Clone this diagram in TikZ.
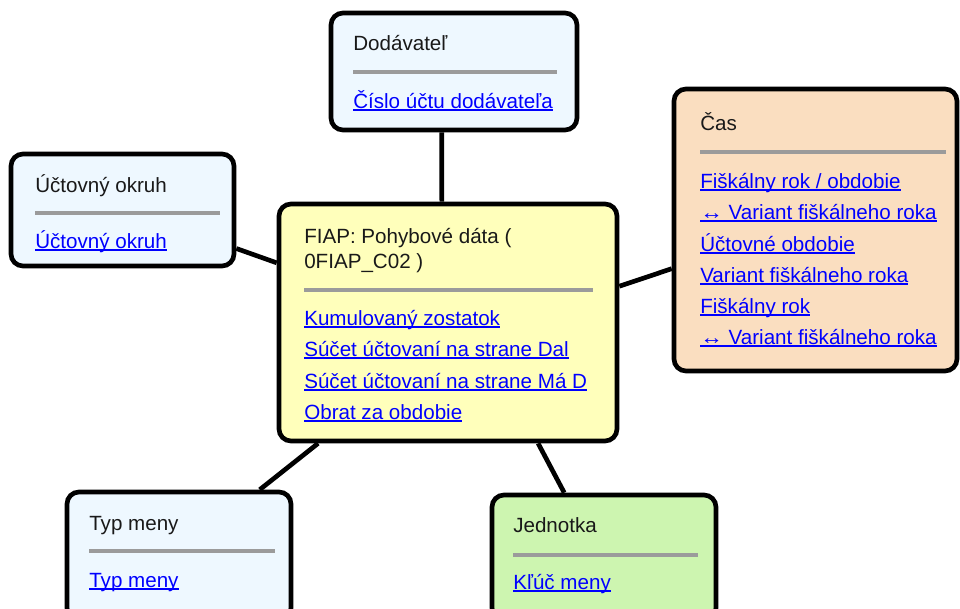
\documentclass[tikz,border=0pt]{standalone}
\usepackage{fontspec}
\usepackage{graphicx}
\setmainfont{Liberation Sans}
\usetikzlibrary{calc,backgrounds}
\definecolor{boxblue}{RGB}{238,248,255}
\definecolor{boxyellow}{RGB}{255,255,187}
\definecolor{boxpeach}{RGB}{250,222,192}
\definecolor{boxgreen}{RGB}{205,245,176}
\definecolor{sepgray}{RGB}{155,155,155}
\definecolor{linkblue}{RGB}{0,0,255}
\newcommand\lnk[1]{\setbox0\hbox{\color{linkblue}#1}\rlap{\color{linkblue}\rule[-2.3pt]{\wd0}{1.3pt}}\box0}
\newcommand\lrarr{\scalebox{1.1}[1]{↔}}
\tikzset{
  box/.style={draw=black, line width=3.5pt, rounded corners=9pt, inner sep=0pt},
  conn/.style={draw=black, line width=3.5pt},
  sepline/.style={draw=sepgray, line width=2.3pt},
  ttl/.style={anchor=base west, inner sep=0pt, font=\fontsize{15.45}{18}\selectfont, text=black!90},
  lk/.style={anchor=base west, inner sep=0pt, font=\fontsize{15.45}{18}\selectfont},
}
\begin{document}
\begin{tikzpicture}[x=0.75pt,y=-0.75pt]
\useasboundingbox (0,0) rectangle (960,608);
\clip (0,0) rectangle (960,608);
% boxes
\node[box, fill=boxblue, minimum width=184.5pt, minimum height=87.75pt] (dod) at (454,71.5) {};
\node[box, fill=boxblue, minimum width=167.25pt, minimum height=84pt] (uct) at (122.5,210) {};
\node[box, fill=boxyellow, minimum width=253.5pt, minimum height=177.75pt] (fiap) at (448,322.5) {};
\node[box, fill=boxpeach, minimum width=212.25pt, minimum height=211.5pt] (cas) at (815.5,230) {};
\node[box, fill=boxblue, minimum width=168pt, minimum height=96pt] (typ) at (179,556) {};
\node[box, fill=boxgreen, minimum width=168pt, minimum height=93.75pt] (jed) at (604,557.5) {};
% connectors
\begin{pgfonlayer}{background}
\draw[conn] ($(dod.south west)!0.451!(dod.south east)$) -- ($(fiap.north west)!0.482!(fiap.north east)$);
\draw[conn] ($(uct.north east)!0.83!(uct.south east)$) -- ($(fiap.north west)!0.253!(fiap.south west)$);
\draw[conn] ($(fiap.north east)!0.35!(fiap.south east)$) -- ($(cas.north west)!0.635!(cas.south west)$);
\draw[conn] ($(typ.north west)!0.853!(typ.north east)$) -- ($(fiap.south west)!0.121!(fiap.south east)$);
\draw[conn] ($(fiap.south west)!0.763!(fiap.south east)$) -- ($(jed.north west)!0.326!(jed.north east)$);
\end{pgfonlayer}
% Dodavatel
\node[ttl] (dodT) at (353,50) {Dodávateľ};
\draw[sepline] (353,72) -- (557,72);
\node[lk] (dodL1) at (353,108) {\lnk{Číslo účtu dodávateľa}};
% Uctovny okruh
\node[ttl] (uctT) at (35,192) {Účtovný okruh};
\draw[sepline] (35,213) -- (220,213);
\node[lk] (uctL1) at (35,248) {\lnk{Účtovný okruh}};
% FIAP
\node[ttl] (fiapT1) at (304,243) {FIAP: Pohybové dáta (};
\node[ttl] (fiapT2) at (304,268) {0FIAP\_C02 )};
\draw[sepline] (304,290) -- (593,290);
\node[lk] (fiapL1) at (304,325) {\lnk{Kumulovaný zostatok}};
\node[lk] (fiapL2) at (304,356) {\lnk{Súčet účtovaní na strane Dal}};
\node[lk] (fiapL3) at (304,388) {\lnk{Súčet účtovaní na strane Má D}};
\node[lk] (fiapL4) at (304,419) {\lnk{Obrat za obdobie}};
% Cas
\node[ttl] (casT) at (700,130) {Čas};
\draw[sepline] (700,152) -- (946,152);
\node[lk] (casL1) at (700,188) {\lnk{Fiškálny rok / obdobie}};
\node[lk] (casL2) at (700,219) {\lnk{\lrarr\ Variant fiškálneho roka}};
\node[lk] (casL3) at (700,251) {\lnk{Účtovné obdobie}};
\node[lk] (casL4) at (700,282) {\lnk{Variant fiškálneho roka}};
\node[lk] (casL5) at (700,313) {\lnk{Fiškálny rok}};
\node[lk] (casL6) at (700,344) {\lnk{\lrarr\ Variant fiškálneho roka}};
% Typ meny
\node[ttl] (typT) at (89,530) {Typ meny};
\draw[sepline] (89,551) -- (275,551);
\node[lk] (typL1) at (89,587) {\lnk{Typ meny}};
% Jednotka
\node[ttl] (jedT) at (513,532) {Jednotka};
\draw[sepline] (513,555) -- (698,555);
\node[lk] (jedL1) at (513,589) {\lnk{Kľúč meny}};
\end{tikzpicture}
\end{document}
